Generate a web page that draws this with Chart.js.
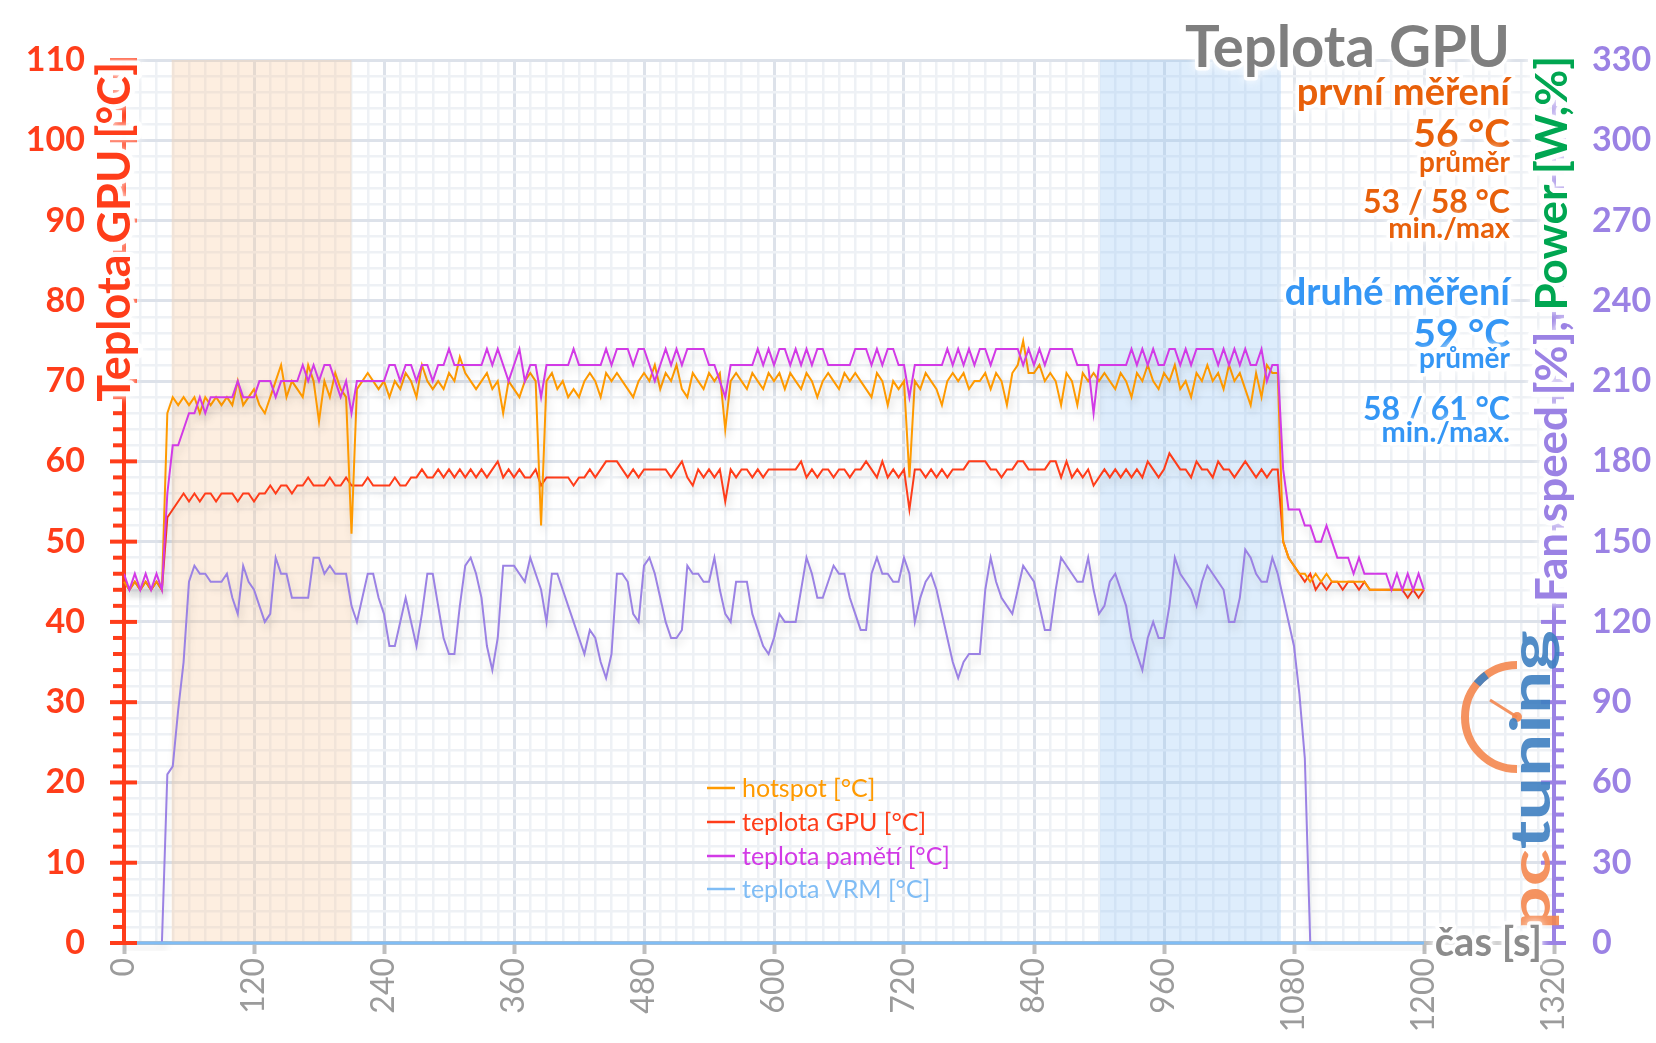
<!DOCTYPE html>
<html lang="cs">
<head>
<meta charset="utf-8">
<title>Teplota GPU</title>
<script src="https://cdn.jsdelivr.net/npm/chart.js@4.4.1/dist/chart.umd.min.js"></script>
<style>
  html, body { margin: 0; padding: 0; background: #fff; }
  canvas { display: block; }
</style>
</head>
<body>
<canvas id="chartTemp" width="1656" height="1043"></canvas>
<script>
"use strict";

// vzorky po 5 s, t = 0 ... 1200 s
var STEP = 5;

var hotspot = [
  45,44,45,44,45,44,45,44,66,68,67,68,67,68,66,68,67,68,67,68,67,70,67,68,
  69,67,66,68,70,72,68,70,69,68,72,70,65,70,68,71,69,68,51,69,70,71,70,69,
  70,68,70,69,71,70,68,72,70,69,70,69,71,70,73,71,70,69,70,71,69,70,66,70,
  69,68,70,71,70,52,70,71,69,70,68,69,68,70,71,70,68,71,70,71,70,69,68,70,
  71,70,72,69,71,70,72,69,68,71,70,69,71,70,71,64,70,71,70,69,71,70,69,71,
  70,71,69,71,70,69,71,70,68,70,71,70,69,71,70,71,70,69,68,71,70,67,70,69,
  70,58,70,69,71,70,69,67,70,71,70,71,69,70,70,71,69,71,70,67,71,72,75,71,
  71,72,70,71,70,67,71,70,67,71,70,71,70,71,70,69,71,70,68,71,70,72,70,69,
  71,70,72,69,70,68,71,70,72,70,71,69,72,70,71,69,67,71,68,72,71,71,50,48,
  47,46,46,45,46,45,46,45,45,45,45,45,45,45,44,44,44,44,44,44,44,44,44,44,
  44
];

var gpuTemp = [
  45,44,45,44,45,44,45,44,53,54,55,56,55,56,55,56,56,55,56,56,56,55,56,56,
  55,56,56,57,56,57,57,56,57,57,58,57,57,57,58,57,57,58,57,57,57,58,57,57,
  57,57,58,57,57,58,58,59,58,58,59,58,59,58,59,58,59,58,59,58,59,60,58,59,
  58,59,58,58,59,57,58,58,58,58,58,57,58,58,59,58,59,60,60,60,59,58,59,58,
  59,59,59,59,59,58,59,60,58,57,59,58,59,58,59,55,59,58,59,59,58,59,58,59,
  59,59,59,59,59,60,58,59,58,59,59,58,59,59,58,59,59,60,59,58,60,58,59,58,
  59,54,59,59,58,59,58,59,58,59,59,59,60,60,60,60,59,59,58,59,59,60,60,59,
  59,59,59,60,60,58,60,58,59,58,59,57,58,59,58,59,58,59,58,59,58,60,59,58,
  59,61,60,59,59,58,60,59,59,58,60,59,59,58,59,60,59,58,59,58,59,59,50,48,
  47,46,45,46,44,45,44,45,45,44,45,45,44,45,44,44,44,44,44,44,44,43,44,43,
  44
];

var memTemp = [
  46,44,46,44,46,44,46,44,56,62,62,64,66,66,68,66,68,68,68,68,68,70,68,68,
  68,70,70,70,68,70,70,70,70,72,70,72,70,72,72,70,68,70,66,70,70,70,70,70,
  70,72,72,70,72,72,70,72,72,70,72,72,74,72,72,72,72,72,72,74,72,74,72,70,
  72,74,70,72,72,68,72,72,72,72,72,74,72,72,72,72,72,74,72,74,74,74,72,74,
  74,72,70,72,74,72,74,72,74,74,74,74,72,72,70,68,72,72,72,72,72,74,72,74,
  72,74,74,72,74,72,74,72,74,74,72,72,72,72,72,74,74,74,72,74,72,74,74,72,
  72,68,72,72,72,72,72,72,74,72,74,72,74,72,74,74,72,74,74,74,74,74,72,74,
  72,74,72,74,74,74,74,74,72,72,72,66,72,72,72,72,72,72,74,72,74,72,74,72,
  72,74,74,72,74,72,74,74,74,74,72,74,72,74,72,74,72,72,74,70,72,72,59,54,
  54,54,52,52,50,50,52,50,48,48,48,46,48,46,46,46,46,46,44,46,44,46,44,46,
  44
];

var vrmTemp = [
  0,0,0,0,0,0,0,0,0,0,0,0,0,0,0,0,0,0,0,0,0,0,0,0,
  0,0,0,0,0,0,0,0,0,0,0,0,0,0,0,0,0,0,0,0,0,0,0,0,
  0,0,0,0,0,0,0,0,0,0,0,0,0,0,0,0,0,0,0,0,0,0,0,0,
  0,0,0,0,0,0,0,0,0,0,0,0,0,0,0,0,0,0,0,0,0,0,0,0,
  0,0,0,0,0,0,0,0,0,0,0,0,0,0,0,0,0,0,0,0,0,0,0,0,
  0,0,0,0,0,0,0,0,0,0,0,0,0,0,0,0,0,0,0,0,0,0,0,0,
  0,0,0,0,0,0,0,0,0,0,0,0,0,0,0,0,0,0,0,0,0,0,0,0,
  0,0,0,0,0,0,0,0,0,0,0,0,0,0,0,0,0,0,0,0,0,0,0,0,
  0,0,0,0,0,0,0,0,0,0,0,0,0,0,0,0,0,0,0,0,0,0,0,0,
  0,0,0,0,0,0,0,0,0,0,0,0,0,0,0,0,0,0,0,0,0,0,0,0,
  0
];

// pravá osa (Fan speed / Power)
var fanSpeed = [
  0,0,0,0,0,0,0,0,63,66,87,105,135,141,138,138,135,135,135,138,129,123,141,135,
  132,126,120,123,144,138,138,129,129,129,129,144,144,138,141,138,138,138,126,120,129,138,138,129,
  123,111,111,120,129,120,111,123,138,138,126,114,108,108,126,141,144,138,129,111,102,114,141,141,
  141,138,135,144,138,132,120,138,138,132,126,120,114,108,117,114,105,99,108,138,138,135,123,120,
  141,144,138,129,120,114,114,117,141,138,138,135,135,144,132,123,120,135,135,135,123,117,111,108,
  114,123,120,120,120,132,144,138,129,129,135,141,138,138,129,123,117,117,138,144,138,138,135,135,
  144,138,120,129,135,138,132,123,114,105,99,105,108,108,108,132,144,135,129,126,123,132,141,138,
  135,126,117,117,132,144,141,138,135,135,144,132,123,126,135,138,132,126,114,108,102,114,120,114,
  114,126,144,138,135,132,126,135,141,138,135,132,120,120,129,147,144,138,135,135,144,138,129,120,
  111,93,69,0,0,0,0,0,0,0,0,0,0,0,0,0,0,0,0,0,0,0,0,0,
  0
];

var bandFirst  = [44, 210];    // první měření
var bandSecond = [901, 1068];  // druhé měření

var legendLabels = ['hotspot [°C]', 'teplota GPU [°C]', 'teplota pamětí [°C]', 'teplota VRM [°C]'];

var FONT = 'Lato, "Open Sans", "Noto Sans", sans-serif';
var RED = '#ff3d1a';
var HOT = '#ff9a00';
var MEM = '#d23ae6';
var VRM = '#80bdf5';
var FAN = '#9b82e4';
var GREEN = '#00a651';
var TXT_ORANGE = '#e8600a';
var TXT_BLUE = '#3496f5';
var GRID_MAJOR = '#dde2ea';
var GRID_MINOR = '#eef1f5';
var LOGO_ORANGE = '#f4874f';
var LOGO_BLUE = '#3e7fc1';

var AREA = { left: 124, right: 1554, top: 60, bottom: 943 };

Chart.defaults.font.family = FONT;

function series(values) {
  return values.map(function (v, i) { return { x: i * STEP, y: v }; });
}

function gridColor(every, lastVal) {
  return function (c) {
    if (!c.tick) return GRID_MINOR;
    var v = c.tick.value;
    if (v === 0 || v === lastVal) return 'rgba(0,0,0,0)';
    return v % every === 0 ? GRID_MAJOR : GRID_MINOR;
  };
}

function haloText(ctx, text, x, y, color, halo) {
  ctx.save();
  ctx.shadowColor = '#ffffff';
  ctx.shadowBlur = 8;
  ctx.strokeStyle = 'rgba(255,255,255,0.95)';
  ctx.lineWidth = halo || 7;
  ctx.lineJoin = 'round';
  ctx.strokeText(text, x, y);
  ctx.restore();
  ctx.fillStyle = color;
  ctx.fillText(text, x, y);
}

var bandPlugin = {
  id: 'bands',
  beforeDatasetsDraw: function (chart) {
    var ctx = chart.ctx, xs = chart.scales.x, a = chart.chartArea;
    ctx.save();
    ctx.fillStyle = 'rgba(248,198,152,0.3)';
    ctx.fillRect(xs.getPixelForValue(bandFirst[0]), a.top,
      xs.getPixelForValue(bandFirst[1]) - xs.getPixelForValue(bandFirst[0]), a.bottom - a.top);
    ctx.fillStyle = 'rgba(145,195,245,0.3)';
    ctx.fillRect(xs.getPixelForValue(bandSecond[0]), a.top,
      xs.getPixelForValue(bandSecond[1]) - xs.getPixelForValue(bandSecond[0]), a.bottom - a.top);
    ctx.restore();
  }
};

var shadowPlugin = {
  id: 'lineShadow',
  beforeDatasetDraw: function (chart, args) {
    var ctx = chart.ctx;
    ctx.save();
    if (args.index !== 0) {
      ctx.shadowColor = 'rgba(0,0,0,0.16)';
      ctx.shadowBlur = 8;
      ctx.shadowOffsetX = 2;
      ctx.shadowOffsetY = 6;
    }
  },
  afterDatasetDraw: function (chart) {
    chart.ctx.restore();
  }
};

function drawLogo(ctx) {
  var cx = 1517, cy = 717, r = 52;
  ctx.save();
  ctx.globalAlpha = 0.9;
  ctx.lineCap = 'butt';
  ctx.strokeStyle = LOGO_ORANGE;
  ctx.lineWidth = 8;
  ctx.beginPath();
  ctx.arc(cx, cy, r, Math.PI * 0.5, Math.PI * 1.5);
  ctx.stroke();
  ctx.strokeStyle = LOGO_BLUE;
  ctx.beginPath();
  ctx.arc(cx, cy, r, Math.PI * 1.22, Math.PI * 1.30);
  ctx.stroke();
  ctx.strokeStyle = LOGO_ORANGE;
  ctx.lineWidth = 3;
  ctx.beginPath();
  ctx.moveTo(cx, cy);
  ctx.lineTo(cx - 27, cy - 17);
  ctx.stroke();
  ctx.fillStyle = LOGO_ORANGE;
  ctx.beginPath();
  ctx.arc(cx, cy, 5, 0, Math.PI * 2);
  ctx.fill();

  ctx.translate(1550, 930);
  ctx.rotate(-Math.PI / 2);
  ctx.font = 'bold 55px ' + FONT;
  var full = ctx.measureText('pctuning').width;
  ctx.scale(300 / full, 1);
  ctx.textAlign = 'left';
  ctx.textBaseline = 'alphabetic';
  ctx.fillStyle = LOGO_ORANGE;
  ctx.fillText('pc', 0, 0);
  var w = ctx.measureText('pc').width;
  ctx.fillStyle = LOGO_BLUE;
  ctx.fillText('tuning', w, 0);
  ctx.restore();
}

var decorPlugin = {
  id: 'decor',
  afterDraw: function (chart) {
    var ctx = chart.ctx;
    var ys = chart.scales.y, y2 = chart.scales.y2;
    var L = chart.chartArea.left, R = chart.chartArea.right;
    var v, py;

    // značky na osách
    ctx.save();
    ctx.lineWidth = 4;
    ctx.strokeStyle = RED;
    for (v = 0; v <= 110; v += 2) {
      py = ys.getPixelForValue(v);
      ctx.beginPath();
      if (v % 10 === 0) { ctx.moveTo(L - 14, py); ctx.lineTo(L + 13, py); }
      else { ctx.moveTo(L - 11, py); ctx.lineTo(L, py); }
      ctx.stroke();
    }
    ctx.strokeStyle = FAN;
    for (v = 0; v <= 330; v += 6) {
      py = y2.getPixelForValue(v);
      ctx.beginPath();
      if (v % 30 === 0) { ctx.moveTo(R - 13, py); ctx.lineTo(R + 12, py); }
      else { ctx.moveTo(R, py); ctx.lineTo(R + 10, py); }
      ctx.stroke();
    }
    ctx.restore();

    drawLogo(ctx);

    ctx.save();
    ctx.textBaseline = 'alphabetic';

    // titulek levé osy
    ctx.save();
    ctx.translate(130, 62);
    ctx.rotate(-Math.PI / 2);
    ctx.font = 'bold 45px ' + FONT;
    ctx.textAlign = 'right';
    haloText(ctx, 'Teplota GPU [°C]', 0, 0, RED, 10);
    ctx.restore();

    // titulek pravé osy
    ctx.save();
    ctx.translate(1567, 56);
    ctx.rotate(-Math.PI / 2);
    ctx.font = 'bold 44px ' + FONT;
    ctx.textAlign = 'right';
    var wPow = ctx.measureText('Power [W,%]').width;
    haloText(ctx, 'Power [W,%]', 0, 0, GREEN, 10);
    haloText(ctx, 'Fan speed [%], ', -wPow, 0, FAN, 10);
    ctx.restore();

    // titulek osy x
    ctx.font = 'bold 40px ' + FONT;
    ctx.textAlign = 'right';
    haloText(ctx, 'čas [s]', 1542, 956, '#8c8c8c');

    // nadpis a statistiky
    ctx.font = 'bold 58px ' + FONT;
    haloText(ctx, 'Teplota GPU', 1510, 67, '#7f7f7f');

    var stats = [
      ['první měření', 38, 105, TXT_ORANGE],
      ['56 °C', 39, 147, TXT_ORANGE],
      ['průměr', 28, 172, TXT_ORANGE],
      ['53 / 58 °C', 32, 213, TXT_ORANGE],
      ['min./max', 29, 238, TXT_ORANGE],
      ['druhé měření', 38, 305, TXT_BLUE],
      ['59 °C', 39, 347, TXT_BLUE],
      ['průměr', 28, 368, TXT_BLUE],
      ['58 / 61 °C', 32, 420, TXT_BLUE],
      ['min./max.', 29, 442, TXT_BLUE]
    ];
    stats.forEach(function (s) {
      ctx.font = 'bold ' + s[1] + 'px ' + FONT;
      haloText(ctx, s[0], 1510, s[2], s[3]);
    });

    // legenda
    var legCols = [HOT, RED, MEM, VRM];
    var legY = [788, 822, 856, 889];
    ctx.font = '25px ' + FONT;
    ctx.textAlign = 'left';
    legendLabels.forEach(function (lbl, i) {
      ctx.strokeStyle = legCols[i];
      ctx.lineWidth = 2.5;
      ctx.beginPath();
      ctx.moveTo(707, legY[i]);
      ctx.lineTo(735, legY[i]);
      ctx.stroke();
      ctx.fillStyle = legCols[i];
      ctx.fillText(lbl, 742, legY[i] + 9);
    });
    ctx.restore();
  }
};

new Chart(document.getElementById('chartTemp'), {
  type: 'line',
  data: {
    datasets: [
      { label: legendLabels[3], data: series(vrmTemp), borderColor: VRM, borderWidth: 3, order: 0, yAxisID: 'y', clip: 8 },
      { label: legendLabels[2], data: series(memTemp), borderColor: MEM, borderWidth: 2, order: 1, yAxisID: 'y', clip: 8 },
      { label: legendLabels[0], data: series(hotspot), borderColor: HOT, borderWidth: 2, order: 2, yAxisID: 'y', clip: 8 },
      { label: legendLabels[1], data: series(gpuTemp), borderColor: RED, borderWidth: 2, order: 3, yAxisID: 'y', clip: 8 },
      { label: 'Fan speed [%]', data: series(fanSpeed), borderColor: FAN, borderWidth: 2, order: 4, yAxisID: 'y2', clip: 8 }
    ]
  },
  options: {
    responsive: false,
    animation: false,
    devicePixelRatio: 1,
    elements: { point: { radius: 0 }, line: { tension: 0, fill: false } },
    layout: { padding: { top: AREA.top, left: 0, right: 0, bottom: 0 } },
    plugins: { legend: { display: false }, tooltip: { enabled: false } },
    scales: {
      x: {
        type: 'linear', min: 0, max: 1320,
        afterFit: function (s) { s.height = 1043 - AREA.bottom; },
        border: { color: '#bfbfbf', width: 4 },
        grid: {
          color: gridColor(120, 1320),
          lineWidth: function (c) { return c.tick && c.tick.value % 120 === 0 ? 3 : 2.5; },
          tickColor: function (c) { return c.tick && c.tick.value % 120 === 0 ? '#bfbfbf' : 'rgba(0,0,0,0)'; },
          tickLength: 11,
          tickWidth: 4
        },
        ticks: {
          stepSize: 15, maxTicksLimit: 200, autoSkip: false,
          minRotation: 90, maxRotation: 90, padding: 4,
          color: '#9b9b9b', font: { size: 32 },
          callback: function (v) { return v % 120 === 0 ? String(v) : ''; }
        }
      },
      y: {
        position: 'left', min: 0, max: 110,
        afterFit: function (s) { s.width = AREA.left; },
        border: { color: RED, width: 4 },
        grid: {
          color: gridColor(10, -1),
          lineWidth: function (c) { return c.tick && c.tick.value % 10 === 0 ? 3 : 2.5; },
          drawTicks: false
        },
        ticks: {
          stepSize: 2, maxTicksLimit: 200, autoSkip: false, padding: 39,
          color: RED, font: { size: 34, weight: 'bold' },
          callback: function (v) { return v % 10 === 0 ? String(v) : ''; }
        }
      },
      y2: {
        position: 'right', min: 0, max: 330,
        afterFit: function (s) { s.width = 1656 - AREA.right; },
        border: { color: FAN, width: 4 },
        grid: { drawOnChartArea: false, drawTicks: false },
        ticks: {
          stepSize: 6, maxTicksLimit: 200, autoSkip: false, padding: 38,
          color: FAN, font: { size: 34, weight: 'bold' },
          callback: function (v) { return v % 30 === 0 ? String(v) : ''; }
        }
      }
    }
  },
  plugins: [bandPlugin, shadowPlugin, decorPlugin]
});
</script>
</body>
</html>
